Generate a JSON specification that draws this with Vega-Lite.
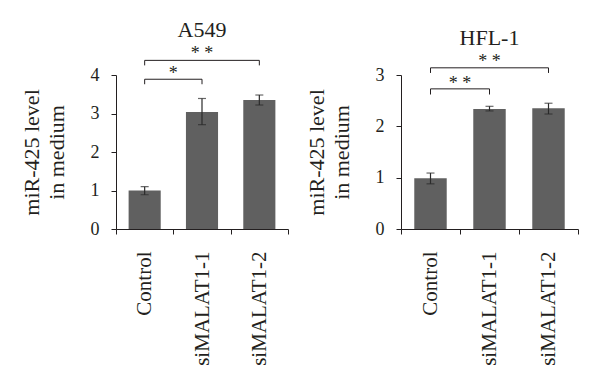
{
  "$schema": "https://vega.github.io/schema/vega-lite/v6.json",
  "padding": {"left": 20, "top": 19, "right": 5, "bottom": 5},
  "background": "white",
  "bounds": "flush",
  "spacing": 113,
  "config": {
    "font": "Liberation Serif",
    "view": {"stroke": null},
    "title": {"font": "Liberation Serif", "fontSize": 22, "fontWeight": "normal", "color": "#231f20", "offset": 3, "frame": "group"},
    "axis": {
      "labelFont": "Liberation Serif", "titleFont": "Liberation Serif",
      "domainColor": "#231f20", "tickColor": "#231f20", "labelColor": "#231f20", "titleColor": "#231f20",
      "grid": false, "tickSize": 5, "labelOverlap": false
    },
    "axisY": {"labelFontSize": 18, "labelPadding": 12, "titleFontSize": 22, "titleFontWeight": "normal", "titleLineHeight": 25, "titlePadding": 22},
    "axisX": {"labelFontSize": 21, "labelPadding": 17, "labelAngle": -90, "tickBand": "extent", "title": null}
  },
  "datasets": {
    "a549": [
      {"group": "Control", "mean": 1.0, "lo": 0.89, "hi": 1.1},
      {"group": "siMALAT1-1", "mean": 3.04, "lo": 2.71, "hi": 3.39},
      {"group": "siMALAT1-2", "mean": 3.35, "lo": 3.22, "hi": 3.48}
    ],
    "a549br": [
      {"from": "Control", "to": "siMALAT1-1", "level": 3.89, "leg": 3.76, "label": "*", "textLevel": 3.9, "span": "short"},
      {"from": "Control", "to": "siMALAT1-2", "level": 4.38, "leg": 4.25, "label": "* *", "textLevel": 4.41, "span": "long"}
    ],
    "hfl": [
      {"group": "Control", "mean": 0.99, "lo": 0.88, "hi": 1.09},
      {"group": "siMALAT1-1", "mean": 2.34, "lo": 2.3, "hi": 2.39},
      {"group": "siMALAT1-2", "mean": 2.35, "lo": 2.24, "hi": 2.45}
    ],
    "hflbr": [
      {"from": "Control", "to": "siMALAT1-1", "level": 2.73, "leg": 2.62, "label": "* *", "textLevel": 2.73, "span": "short"},
      {"from": "Control", "to": "siMALAT1-2", "level": 3.14, "leg": 3.04, "label": "* *", "textLevel": 3.16, "span": "long"}
    ]
  },
  "hconcat": [
    {
      "width": 172, "height": 154,
      "title": {"text": "A549"},
      "layer": [
        {
          "data": {"name": "a549"},
          "mark": {"type": "bar", "width": {"band": 0.56}, "color": "#606060"},
          "encoding": {
            "x": {"field": "group", "type": "nominal", "sort": null, "scale": {"paddingInner": 0, "paddingOuter": 0}},
            "y": {"field": "mean", "type": "quantitative", "scale": {"domain": [0, 4]}, "axis": {"values": [0, 1, 2, 3, 4], "tickCount": 5, "labelOverlap": false, "format": "d", "title": ["miR-425 level", "in medium"]}}
          }
        },
        {
          "data": {"name": "a549"},
          "mark": {"type": "rule", "color": "#2a2a2a", "strokeWidth": 1.2},
          "encoding": {
            "x": {"field": "group", "type": "nominal", "sort": null},
            "y": {"field": "lo", "type": "quantitative"},
            "y2": {"field": "hi"}
          }
        },
        {
          "data": {"name": "a549"},
          "mark": {"type": "tick", "color": "#2a2a2a", "size": 8, "thickness": 1.2},
          "encoding": {
            "x": {"field": "group", "type": "nominal", "sort": null},
            "y": {"field": "lo", "type": "quantitative"}
          }
        },
        {
          "data": {"name": "a549"},
          "mark": {"type": "tick", "color": "#2a2a2a", "size": 8, "thickness": 1.2},
          "encoding": {
            "x": {"field": "group", "type": "nominal", "sort": null},
            "y": {"field": "hi", "type": "quantitative"}
          }
        },
        {
          "data": {"name": "a549br"},
          "mark": {"type": "rule", "color": "#231f20", "strokeWidth": 1},
          "encoding": {
            "x": {"field": "from", "type": "nominal", "sort": null},
            "x2": {"field": "to"},
            "y": {"field": "level", "type": "quantitative"}
          }
        },
        {
          "data": {"name": "a549br"},
          "transform": [{"fold": ["from", "to"], "as": ["end", "cat"]}],
          "mark": {"type": "rule", "color": "#231f20", "strokeWidth": 1},
          "encoding": {
            "x": {"field": "cat", "type": "nominal", "sort": null},
            "y": {"field": "level", "type": "quantitative"},
            "y2": {"field": "leg"}
          }
        },
        {
          "data": {"name": "a549br"},
          "transform": [{"filter": "datum.span === 'short'"}],
          "mark": {"type": "text", "fontSize": 18, "baseline": "alphabetic", "color": "#231f20"},
          "encoding": {
            "x": {"field": "from", "type": "nominal", "sort": null, "bandPosition": 1},
            "y": {"field": "textLevel", "type": "quantitative"},
            "text": {"field": "label"}
          }
        },
        {
          "data": {"name": "a549br"},
          "transform": [{"filter": "datum.span === 'long'"}],
          "mark": {"type": "text", "fontSize": 18, "baseline": "alphabetic", "color": "#231f20"},
          "encoding": {
            "x": {"field": "from", "type": "nominal", "sort": null, "bandPosition": 1.5},
            "y": {"field": "textLevel", "type": "quantitative"},
            "text": {"field": "label"}
          }
        }
      ]
    },
    {
      "width": 177, "height": 154,
      "title": {"text": "HFL-1"},
      "layer": [
        {
          "data": {"name": "hfl"},
          "mark": {"type": "bar", "width": {"band": 0.55}, "color": "#606060"},
          "encoding": {
            "x": {"field": "group", "type": "nominal", "sort": null, "scale": {"paddingInner": 0, "paddingOuter": 0}},
            "y": {"field": "mean", "type": "quantitative", "scale": {"domain": [0, 3]}, "axis": {"values": [0, 1, 2, 3], "labelOverlap": false, "format": "d", "title": ["miR-425 level", "in medium"]}}
          }
        },
        {
          "data": {"name": "hfl"},
          "mark": {"type": "rule", "color": "#2a2a2a", "strokeWidth": 1.2},
          "encoding": {
            "x": {"field": "group", "type": "nominal", "sort": null},
            "y": {"field": "lo", "type": "quantitative"},
            "y2": {"field": "hi"}
          }
        },
        {
          "data": {"name": "hfl"},
          "mark": {"type": "tick", "color": "#2a2a2a", "size": 8, "thickness": 1.2},
          "encoding": {
            "x": {"field": "group", "type": "nominal", "sort": null},
            "y": {"field": "lo", "type": "quantitative"}
          }
        },
        {
          "data": {"name": "hfl"},
          "mark": {"type": "tick", "color": "#2a2a2a", "size": 8, "thickness": 1.2},
          "encoding": {
            "x": {"field": "group", "type": "nominal", "sort": null},
            "y": {"field": "hi", "type": "quantitative"}
          }
        },
        {
          "data": {"name": "hflbr"},
          "mark": {"type": "rule", "color": "#231f20", "strokeWidth": 1},
          "encoding": {
            "x": {"field": "from", "type": "nominal", "sort": null},
            "x2": {"field": "to"},
            "y": {"field": "level", "type": "quantitative"}
          }
        },
        {
          "data": {"name": "hflbr"},
          "transform": [{"fold": ["from", "to"], "as": ["end", "cat"]}],
          "mark": {"type": "rule", "color": "#231f20", "strokeWidth": 1},
          "encoding": {
            "x": {"field": "cat", "type": "nominal", "sort": null},
            "y": {"field": "level", "type": "quantitative"},
            "y2": {"field": "leg"}
          }
        },
        {
          "data": {"name": "hflbr"},
          "transform": [{"filter": "datum.span === 'short'"}],
          "mark": {"type": "text", "fontSize": 18, "baseline": "alphabetic", "color": "#231f20"},
          "encoding": {
            "x": {"field": "from", "type": "nominal", "sort": null, "bandPosition": 1},
            "y": {"field": "textLevel", "type": "quantitative"},
            "text": {"field": "label"}
          }
        },
        {
          "data": {"name": "hflbr"},
          "transform": [{"filter": "datum.span === 'long'"}],
          "mark": {"type": "text", "fontSize": 18, "baseline": "alphabetic", "color": "#231f20"},
          "encoding": {
            "x": {"field": "from", "type": "nominal", "sort": null, "bandPosition": 1.5},
            "y": {"field": "textLevel", "type": "quantitative"},
            "text": {"field": "label"}
          }
        }
      ]
    }
  ]
}
